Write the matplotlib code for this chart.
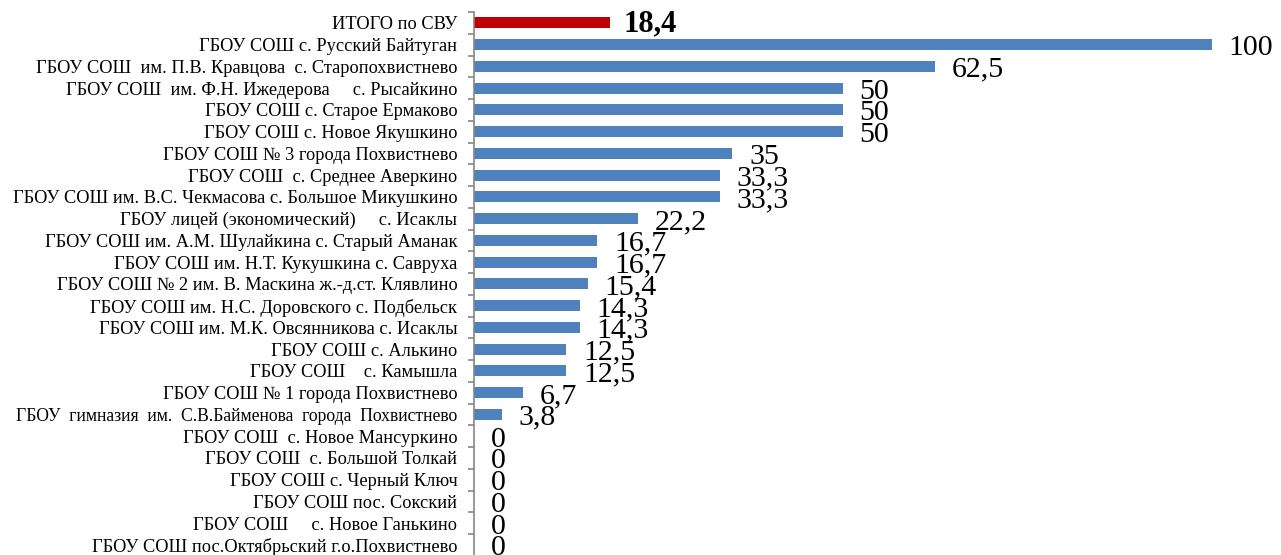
import matplotlib
matplotlib.use("Agg")
import matplotlib.pyplot as plt
import numpy as np

categories = [
    "ИТОГО по СВУ",
    "ГБОУ СОШ с. Русский Байтуган",
    "ГБОУ СОШ  им. П.В. Кравцова  с. Старопохвистнево",
    "ГБОУ СОШ  им. Ф.Н. Ижедерова     с. Рысайкино",
    "ГБОУ СОШ с. Старое Ермаково",
    "ГБОУ СОШ с. Новое Якушкино",
    "ГБОУ СОШ № 3 города Похвистнево",
    "ГБОУ СОШ  с. Среднее Аверкино",
    "ГБОУ СОШ им. В.С. Чекмасова с. Большое Микушкино",
    "ГБОУ лицей (экономический)     с. Исаклы",
    "ГБОУ СОШ им. А.М. Шулайкина с. Старый Аманак",
    "ГБОУ СОШ им. Н.Т. Кукушкина с. Савруха",
    "ГБОУ СОШ № 2 им. В. Маскина ж.-д.ст. Клявлино",
    "ГБОУ СОШ им. Н.С. Доровского с. Подбельск",
    "ГБОУ СОШ им. М.К. Овсянникова с. Исаклы",
    "ГБОУ СОШ с. Алькино",
    "ГБОУ СОШ    с. Камышла",
    "ГБОУ СОШ № 1 города Похвистнево",
    "ГБОУ  гимназия  им.  С.В.Байменова  города  Похвистнево",
    "ГБОУ СОШ  с. Новое Мансуркино",
    "ГБОУ СОШ  с. Большой Толкай",
    "ГБОУ СОШ с. Черный Ключ",
    "ГБОУ СОШ пос. Сокский",
    "ГБОУ СОШ     с. Новое Ганькино",
    "ГБОУ СОШ пос.Октябрьский г.о.Похвистнево",
]
values = [18.4, 100, 62.5, 50, 50, 50, 35, 33.3, 33.3, 22.2, 16.7, 16.7, 15.4,
          14.3, 14.3, 12.5, 12.5, 6.7, 3.8, 0, 0, 0, 0, 0, 0]

plt.rcParams['font.family'] = ['Liberation Serif', 'DejaVu Serif']

fig = plt.figure(figsize=(12.81, 5.55), dpi=100)
n = len(categories)
row_px = 21.75
top_px = 12
bottom_px = top_px + n * row_px
ax = fig.add_axes([474/1281, 1 - bottom_px/555, (1212-474)/1281, (bottom_px - top_px)/555])

y = np.arange(n)
colors = ['#C00000'] + ['#4F81BD'] * (n - 1)
ax.barh(y, values, height=0.5, color=colors, edgecolor='none')
ax.set_xlim(0, 100)
ax.set_ylim(n - 0.5, -0.5)

for sp in ['top', 'right', 'bottom']:
    ax.spines[sp].set_visible(False)
ax.spines['left'].set_color('#868686')
ax.spines['left'].set_linewidth(1.2)
ax.set_xticks([])

ax.set_yticks(y)
ax.set_yticklabels(categories, fontsize=13.2)
for lbl in ax.get_yticklabels():
    if 'гимназия' in lbl.get_text():
        lbl.set_fontsize(12.7)
ax.tick_params(axis='y', which='major', length=0, pad=12)
ax.set_yticks(np.arange(n + 1) - 0.5, minor=True)
ax.tick_params(axis='y', which='minor', length=4, color='#868686', width=1.2, direction='out')

for i, v in enumerate(values):
    txt = ('%g' % v).replace('.', ',')
    if i == 0:
        ax.annotate(txt, (v, i), xytext=(10, -1), textcoords='offset points',
                    ha='left', va='center', fontsize=22, fontweight='bold',
                    annotation_clip=False)
    else:
        ax.annotate(txt, (v, i), xytext=(12, -2.5), textcoords='offset points',
                    ha='left', va='center', fontsize=21.5,
                    annotation_clip=False)

fig.savefig('out.png', dpi=100)
